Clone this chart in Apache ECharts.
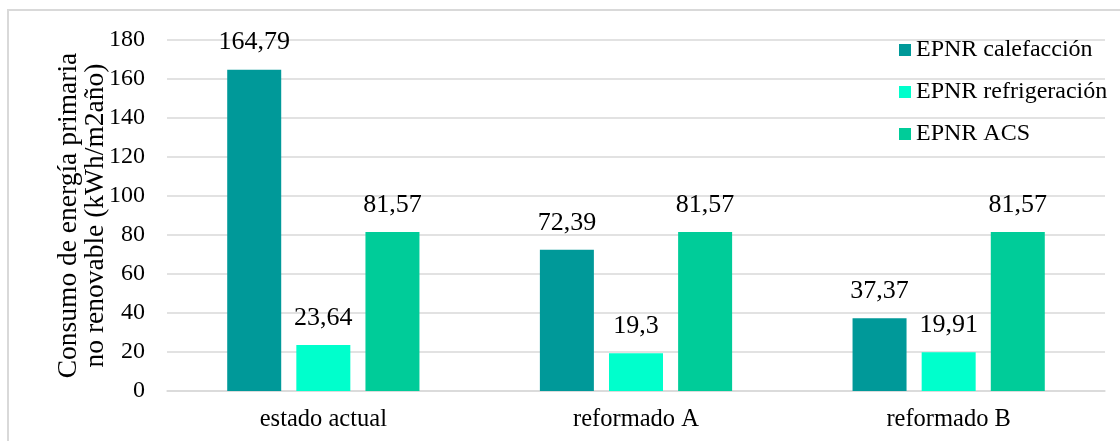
<!DOCTYPE html>
<html>
<head>
<meta charset="utf-8">
<script src="https://cdn.jsdelivr.net/npm/echarts@6/dist/echarts.min.js"></script>
<style>
html,body{margin:0;padding:0;background:#fff;}
#chart{width:1120px;height:441px;}
</style>
</head>
<body>
<div id="chart"></div>
<script>
var categories = ['estado actual', 'reformado A', 'reformado B'];
var seriesNames = ['EPNR calefacción', 'EPNR refrigeración', 'EPNR ACS'];
var calefaccion = [164.79, 72.39, 37.37];
var refrigeracion = [23.64, 19.3, 19.91];
var acs = [81.57, 81.57, 81.57];
var yTicks = [0, 20, 40, 60, 80, 100, 120, 140, 160, 180];
var colors = ['#009999', '#00FFCC', '#00CC99'];
var yTitle = 'Consumo de energía primaria\nno renovable (kWh/m2año)';

var FONT = '"Liberation Serif", "Times New Roman", serif';
var chart = echarts.init(document.getElementById('chart'), null, {renderer: 'canvas'});

function fmt(v) { return String(v).replace('.', ','); }

var allData = [calefaccion, refrigeracion, acs];
var series = allData.map(function (d, i) {
  return {
    name: seriesNames[i],
    type: 'bar',
    data: d,
    barWidth: 54,
    barGap: '28%',
    itemStyle: {color: colors[i]},
    label: {
      show: true,
      position: 'top',
      distance: 14,
      color: '#000',
      fontFamily: FONT,
      fontSize: 26,
      formatter: function (p) { return fmt(p.value); }
    }
  };
});

chart.setOption({
  animation: false,
  backgroundColor: '#fff',
  textStyle: {fontFamily: FONT},
  graphic: [{
    type: 'rect',
    shape: {x: 8, y: 10, width: 1200, height: 600},
    style: {fill: 'none', stroke: '#d9d9d9', lineWidth: 2},
    silent: true,
    z: -10
  }],
  grid: {left: 167, right: 15, top: 40, bottom: 50, containLabel: false},
  legend: {
    orient: 'vertical',
    left: 899,
    top: 38,
    padding: 0,
    icon: 'rect',
    itemWidth: 12,
    itemHeight: 12,
    itemGap: 18,
    textStyle: {fontFamily: FONT, fontSize: 24, color: '#000'},
    data: seriesNames
  },
  xAxis: {
    type: 'category',
    data: categories,
    axisLine: {lineStyle: {color: '#d9d9d9', width: 1.5}},
    axisTick: {show: false},
    axisLabel: {color: '#000', fontFamily: FONT, fontSize: 24.5, margin: 16}
  },
  yAxis: {
    type: 'value',
    min: yTicks[0],
    max: yTicks[yTicks.length - 1],
    interval: yTicks[1] - yTicks[0],
    name: yTitle,
    nameLocation: 'middle',
    nameGap: 58,
    nameMoveOverlap: false,
    nameTextStyle: {color: '#000', fontFamily: FONT, fontSize: 27.5, lineHeight: 27, align: 'center'},
    axisLine: {show: false},
    axisTick: {show: false},
    splitLine: {lineStyle: {color: '#d9d9d9', width: 1.5}},
    axisLabel: {color: '#000', fontFamily: FONT, fontSize: 24, margin: 22}
  },
  series: series
});
</script>
</body>
</html>
